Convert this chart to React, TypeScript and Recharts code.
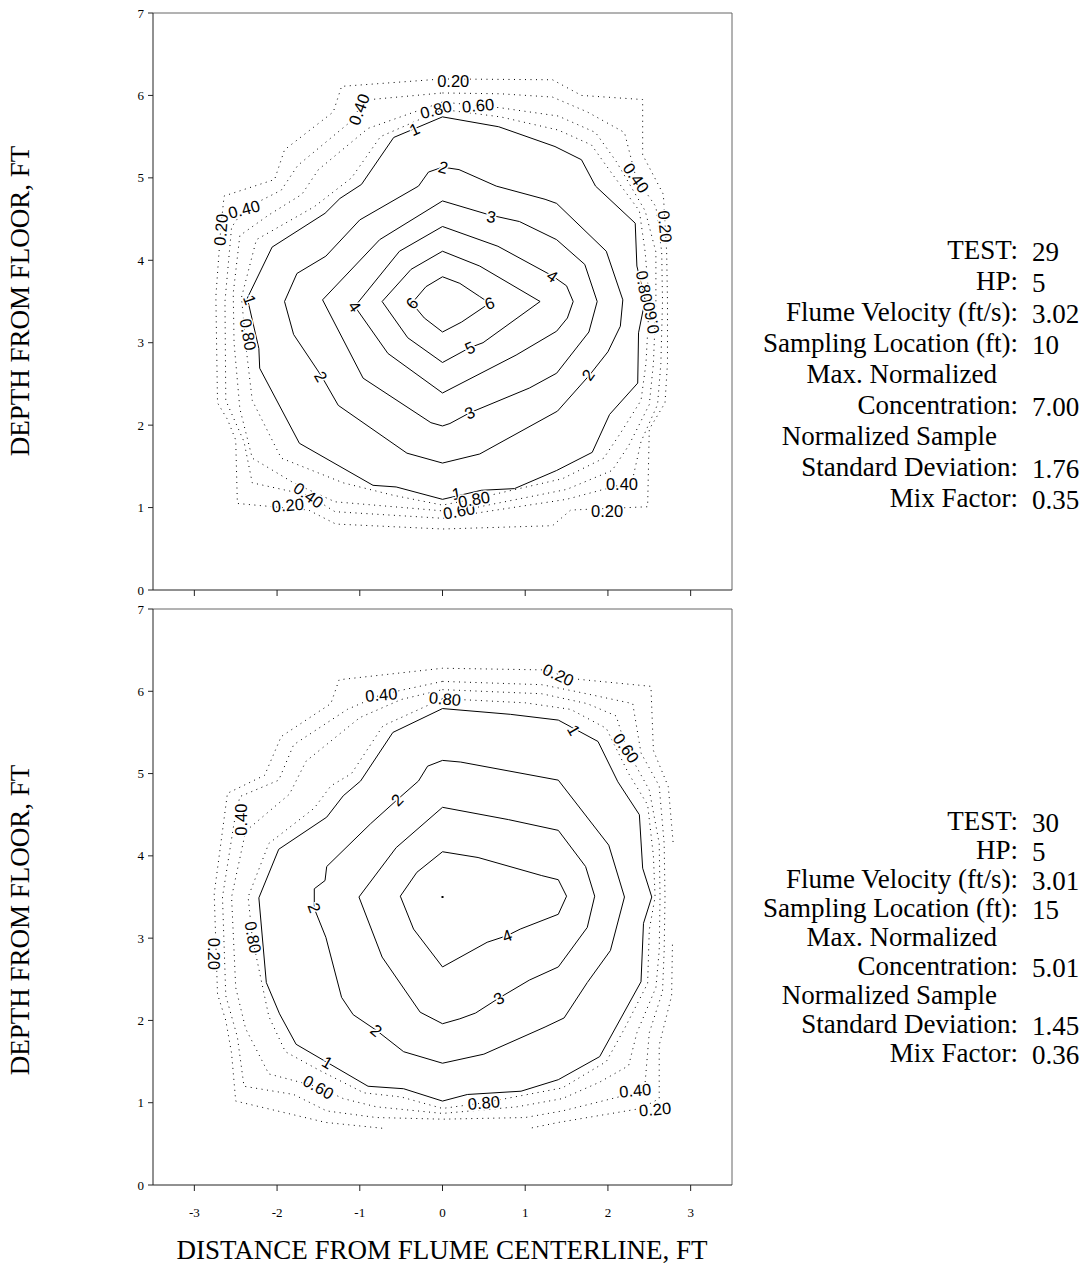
import React from 'react';
import { ScatterChart, Scatter, XAxis, YAxis, ReferenceLine } from 'recharts';

type P = [number, number];
type Lbl = [number, number, string, number];

const xTicks = [-3, -2, -1, 0, 1, 2, 3];
const yTicks = [0, 1, 2, 3, 4, 5, 6, 7];

// ---- Test 29 contour lines (x ft, depth ft) ----
const t29c020: P[] = [
  [0, 6.2], [1.33, 6.19], [1.68, 6.0], [2.42, 5.95], [2.42, 5.28], [2.67, 4.8], [2.71, 4.1], [2.72, 3.5],
  [2.72, 2.75], [2.69, 2.27], [2.5, 1.95], [2.48, 1.01], [1.55, 0.97], [1.33, 0.78], [0, 0.74], [-1.29, 0.8],
  [-1.62, 0.97], [-2.48, 1.05], [-2.5, 1.82], [-2.6, 2.07], [-2.72, 2.27], [-2.74, 3.56], [-2.68, 4.4],
  [-2.64, 4.78], [-2.03, 4.98], [-1.91, 5.34], [-1.32, 5.8], [-1.22, 6.11], [0, 6.2],
];
const t29c040: P[] = [
  [0, 6.03], [0.7, 6.02], [1.33, 5.98], [1.75, 5.8], [2.2, 5.55], [2.34, 5.0], [2.58, 4.65], [2.65, 4.1],
  [2.66, 3.5], [2.64, 2.75], [2.6, 2.25], [2.4, 1.8], [2.3, 1.35], [2.17, 1.28], [1.5, 1.1], [0, 0.87],
  [-1.3, 0.95], [-1.62, 1.15], [-2.3, 1.3], [-2.4, 1.8], [-2.62, 2.3], [-2.63, 3.5], [-2.55, 4.4],
  [-2.4, 4.62], [-1.95, 4.85], [-1.75, 5.15], [-1.15, 5.65], [-1.01, 5.83], [-0.87, 5.95], [0, 6.03],
];
const t29c060: P[] = [
  [0, 5.92], [0.7, 5.85], [1.4, 5.75], [1.85, 5.55], [2.1, 5.2], [2.45, 4.6], [2.58, 4.1], [2.58, 3.5],
  [2.55, 2.75], [2.5, 2.25], [2.25, 1.75], [2.05, 1.45], [1.5, 1.22], [0.2, 0.96], [0, 0.96], [-1.3, 1.07],
  [-1.8, 1.3], [-2.3, 1.6], [-2.45, 2.2], [-2.52, 3.0], [-2.53, 3.6], [-2.45, 4.3], [-2.1, 4.55],
  [-1.7, 4.8], [-1.5, 5.1], [-0.9, 5.6], [0, 5.92],
];
const t29c080: P[] = [
  [0, 5.83], [0.7, 5.74], [1.4, 5.58], [1.8, 5.4], [2.05, 5.05], [2.38, 4.6], [2.45, 4.1], [2.5, 3.5],
  [2.46, 2.75], [2.4, 2.3], [2.15, 1.9], [1.95, 1.6], [1.45, 1.35], [0.36, 1.1], [0, 1.03], [-0.6, 1.15],
  [-1.2, 1.3], [-1.95, 1.6], [-2.3, 2.3], [-2.37, 2.9], [-2.43, 3.55], [-2.25, 4.25], [-1.55, 4.65],
  [-1.1, 5.0], [-0.75, 5.5], [0, 5.83],
];
const t29c1: P[] = [
  [0, 5.74], [0.68, 5.62], [1.36, 5.38], [1.68, 5.22], [1.85, 4.9], [2.33, 4.45], [2.35, 3.93], [2.45, 3.52],
  [2.37, 3.12], [2.36, 2.51], [2.02, 2.13], [1.81, 1.67], [1.38, 1.45], [0.87, 1.23], [0.47, 1.21], [0, 1.1],
  [-0.56, 1.25], [-0.84, 1.27], [-1.73, 1.78], [-2.21, 2.69], [-2.22, 2.93], [-2.36, 3.54], [-2.06, 4.16],
  [-1.42, 4.57], [-1.24, 4.75], [-0.98, 4.92], [-0.59, 5.49], [0, 5.74],
];
const t29c2: P[] = [
  [0, 5.13], [0.2, 5.1], [0.65, 4.9], [1.24, 4.74], [1.38, 4.69], [1.98, 4.11], [2.18, 3.52], [2.15, 3.2],
  [2.0, 2.89], [1.78, 2.61], [1.39, 2.17], [0.45, 1.65], [0, 1.54], [-0.43, 1.66], [-1.26, 2.24],
  [-1.46, 2.59], [-1.8, 3.1], [-1.91, 3.5], [-1.76, 3.84], [-1.41, 4.05], [-1.0, 4.49], [-0.29, 4.9],
  [-0.17, 5.07], [0, 5.13],
];
const t29c3: P[] = [
  [0, 4.72], [0.57, 4.55], [0.93, 4.47], [1.38, 4.25], [1.72, 3.95], [1.87, 3.5], [1.77, 3.13], [1.38, 2.63],
  [1.05, 2.45], [0.33, 2.15], [0.09, 2.02], [0, 1.99], [-0.14, 2.03], [-0.96, 2.57], [-1.45, 3.52],
  [-0.76, 4.25], [0, 4.72],
];
const t29c4: P[] = [
  [0, 4.41], [0.67, 4.17], [1.33, 3.81], [1.5, 3.69], [1.58, 3.5], [1.51, 3.3], [1.38, 3.14], [0.89, 2.85],
  [0, 2.39], [-0.66, 2.87], [-1.06, 3.44], [-0.52, 4.11], [0, 4.41],
];
const t29c5: P[] = [
  [0, 4.11], [0.45, 3.93], [1.18, 3.5], [0.49, 3.0], [0.33, 2.94], [0, 2.76], [-0.42, 3.06], [-0.73, 3.5],
  [-0.38, 3.89], [0, 4.11],
];
const t29c6: P[] = [
  [0, 3.8], [0.21, 3.72], [0.45, 3.56], [0.57, 3.48], [0.23, 3.25], [0, 3.13], [-0.22, 3.3], [-0.37, 3.48],
  [-0.2, 3.68], [0, 3.8],
];
const t29Labels: Lbl[] = [
  [-0.34, 5.59, '1', -25], [0.01, 5.13, '2', 15], [0.59, 4.53, '3', 10], [1.33, 3.81, '4', 35],
  [-1.06, 3.44, '4', 55], [-0.37, 3.48, '6', -50], [0.57, 3.48, '6', -20], [0.33, 2.94, '5', -25],
  [0.33, 2.15, '3', -25], [-1.47, 2.59, '2', 60], [1.76, 2.61, '2', -55], [-2.33, 3.52, '1', 70],
  [0.17, 1.17, '1', -10],
  [0.13, 6.18, '0.20', 0], [-1.01, 5.83, '0.40', -70], [-0.08, 5.83, '0.80', -15], [0.43, 5.88, '0.60', -5],
  [2.34, 5.0, '0.40', 55], [2.69, 4.41, '0.20', 85], [2.44, 3.68, '0.80', 80], [2.52, 3.3, '0.60', -100],
  [-2.68, 4.37, '0.20', -85], [-2.4, 4.62, '0.40', -15], [-2.35, 3.1, '0.80', 80],
  [-1.62, 1.15, '0.40', 35], [-1.87, 1.03, '0.20', -5], [0.2, 0.96, '0.60', -10], [0.38, 1.1, '0.80', -10],
  [2.17, 1.28, '0.40', 0], [1.99, 0.96, '0.20', 0],
];

// ---- Test 30 contour lines ----
const t30c020a: P[] = [
  [-0.73, 0.69], [-1.41, 0.76], [-2.5, 1.02], [-2.55, 1.6], [-2.62, 2.0], [-2.72, 2.32], [-2.76, 3.54],
  [-2.6, 4.76], [-2.15, 4.98], [-1.95, 5.45], [-1.35, 5.85], [-1.25, 6.14], [0, 6.28], [1.22, 6.26],
  [1.6, 6.15], [2.52, 6.06], [2.55, 5.28], [2.73, 4.84], [2.79, 4.14],
];
const t30c020b: P[] = [
  [2.78, 2.92], [2.77, 2.3], [2.62, 1.7], [2.62, 1.05], [2.4, 0.93], [1.4, 0.76], [1.06, 0.69],
];
const t30c040: P[] = [
  [0, 6.12], [1.2, 6.08], [1.6, 6.0], [2.3, 5.85], [2.4, 5.25], [2.62, 4.85], [2.68, 4.15], [2.69, 3.5],
  [2.68, 2.85], [2.66, 2.35], [2.5, 1.85], [2.45, 1.25], [2.33, 1.12], [1.45, 0.9], [1.0, 0.82], [0, 0.8],
  [-0.8, 0.82], [-1.4, 0.9], [-1.8, 1.1], [-2.4, 1.2], [-2.48, 1.8], [-2.62, 2.3], [-2.66, 3.5],
  [-2.52, 4.4], [-2.45, 4.72], [-1.98, 4.92], [-1.8, 5.35], [-1.15, 5.78], [-0.74, 5.96], [0, 6.12],
];
const t30c060: P[] = [
  [0, 6.02], [1.2, 5.97], [1.75, 5.85], [2.1, 5.7], [2.22, 5.31], [2.5, 4.8], [2.62, 4.15], [2.63, 3.5],
  [2.62, 2.85], [2.58, 2.4], [2.35, 1.85], [2.25, 1.45], [1.9, 1.25], [1.45, 1.05], [0.9, 0.95], [0, 0.87],
  [-0.8, 0.95], [-1.2, 1.05], [-1.5, 1.19], [-2.1, 1.35], [-2.38, 1.9], [-2.5, 2.4], [-2.55, 3.5],
  [-2.38, 4.3], [-1.85, 4.75], [-1.65, 5.15], [-1.0, 5.68], [-0.5, 5.9], [0, 6.02],
];
const t30c080: P[] = [
  [0, 5.91], [1.0, 5.86], [1.55, 5.78], [1.98, 5.55], [2.25, 5.0], [2.48, 4.62], [2.55, 4.0], [2.57, 3.5],
  [2.5, 3.1], [2.48, 2.45], [2.2, 1.9], [1.98, 1.5], [1.45, 1.18], [0.5, 1.0], [0, 0.93], [-0.5, 1.07],
  [-0.95, 1.12], [-1.5, 1.4], [-1.9, 1.62], [-2.1, 2.05], [-2.3, 3.01], [-2.35, 3.5], [-2.1, 4.15],
  [-1.55, 4.58], [-1.35, 4.85], [-1.1, 5.0], [-0.72, 5.58], [0, 5.91],
];
const t30c1: P[] = [
  [0, 5.79], [0.82, 5.72], [1.4, 5.65], [1.88, 5.39], [2.12, 4.9], [2.38, 4.5], [2.42, 3.85], [2.53, 3.5],
  [2.43, 3.18], [2.4, 2.47], [1.9, 1.56], [1.4, 1.28], [0.95, 1.14], [0.3, 1.1], [0, 1.02], [-0.47, 1.17],
  [-0.9, 1.2], [-1.77, 1.71], [-1.97, 2.08], [-2.13, 2.46], [-2.22, 3.49], [-1.98, 4.08], [-1.4, 4.47],
  [-1.2, 4.73], [-0.99, 4.91], [-0.6, 5.5], [0, 5.79],
];
const t30c2: P[] = [
  [0, 5.16], [0.22, 5.14], [1.4, 4.92], [2.01, 4.13], [2.2, 3.5], [2.03, 2.85], [1.75, 2.46], [1.47, 2.03],
  [1.24, 1.92], [0.5, 1.59], [0, 1.48], [-0.47, 1.62], [-0.8, 1.88], [-1.08, 2.07], [-1.22, 2.28],
  [-1.41, 3.01], [-1.55, 3.36], [-1.55, 3.6], [-1.42, 3.7], [-1.4, 3.87], [-0.87, 4.39], [-0.55, 4.68],
  [-0.29, 4.91], [-0.18, 5.09], [0, 5.16],
];
const t30c3: P[] = [
  [0, 4.59], [0.8, 4.44], [1.4, 4.31], [1.73, 3.87], [1.84, 3.51], [1.75, 3.13], [1.4, 2.65], [1.05, 2.49],
  [0.68, 2.27], [0.4, 2.09], [0.21, 2.02], [0, 1.96], [-0.27, 2.1], [-0.73, 2.77], [-1.01, 3.5],
  [-0.56, 4.1], [0, 4.59],
];
const t30c4: P[] = [
  [0, 4.05], [0.43, 3.98], [1.2, 3.76], [1.4, 3.71], [1.5, 3.51], [1.4, 3.29], [0.94, 3.11], [0.78, 3.03],
  [0.54, 2.95], [0, 2.65], [-0.35, 3.11], [-0.51, 3.51], [-0.31, 3.8], [0, 4.05],
];
const t30Peak: P[] = [[0, 3.5]];
const t30Labels: Lbl[] = [
  [1.4, 6.2, '0.20', 25], [-0.74, 5.96, '0.40', -5], [0.03, 5.91, '0.80', 5], [1.59, 5.53, '1', 60],
  [2.22, 5.31, '0.60', 55], [-2.43, 4.44, '0.40', -90], [-0.55, 4.68, '2', -45], [-1.55, 3.37, '2', 70],
  [-2.76, 2.81, '0.20', 90], [-2.29, 3.01, '0.80', 80], [0.78, 3.03, '4', -20], [0.68, 2.27, '3', -30],
  [-0.8, 1.88, '2', 40], [-1.39, 1.49, '1', 30], [-1.5, 1.19, '0.60', 30], [0.5, 1.0, '0.80', -5],
  [2.33, 1.15, '0.40', -5], [2.57, 0.92, '0.20', -5],
];

const test29Info: [string, string][] = [
  ['TEST:', '29'], ['HP:', '5'], ['Flume Velocity (ft/s):', '3.02'], ['Sampling Location (ft):', '10'],
  ['Max. Normalized', ''], ['Concentration:', '7.00'], ['Normalized Sample', ''],
  ['Standard Deviation:', '1.76'], ['Mix Factor:', '0.35'],
];
const test30Info: [string, string][] = [
  ['TEST:', '30'], ['HP:', '5'], ['Flume Velocity (ft/s):', '3.01'], ['Sampling Location (ft):', '15'],
  ['Max. Normalized', ''], ['Concentration:', '5.01'], ['Normalized Sample', ''],
  ['Standard Deviation:', '1.45'], ['Mix Factor:', '0.36'],
];

const SERIF = "'Liberation Serif', 'Times New Roman', serif";
const SANS = "'Liberation Sans', Arial, sans-serif";

const toPts = (arr: P[]) => arr.map(([x, y]) => ({ x, y }));
const NoDot = () => <g />;

// contour value written along the line, with a white halo that breaks the line under it
const LabelShape = (props: any) => {
  const { cx, cy, payload } = props;
  return (
    <text
      x={cx}
      y={cy}
      dy="0.36em"
      textAnchor="middle"
      transform={`rotate(${payload.a} ${cx} ${cy})`}
      fontFamily={SANS}
      fontSize={16.5}
      fill="#000"
      stroke="#fff"
      strokeWidth={3}
      paintOrder="stroke"
    >
      {payload.t}
    </text>
  );
};

const PeakShape = (props: any) => <rect x={props.cx - 1} y={props.cy - 1} width={2} height={2} fill="#000" />;

interface PanelProps {
  dotted: P[][];
  solid: P[][];
  labels: Lbl[];
  peaks?: P[];
  showXLabels: boolean;
  xAxisHeight: number;
  height: number;
  bottom: number;
}

function ContourPanel({ dotted, solid, labels, peaks, showXLabels, xAxisHeight, height, bottom }: PanelProps) {
  const labelData = labels.map(([x, y, t, a]) => ({ x, y, t, a }));
  return (
    <ScatterChart width={760} height={height} margin={{ top: 13, right: 28, bottom, left: 0 }}>
      <XAxis
        type="number"
        dataKey="x"
        domain={[-3.5, 3.5]}
        ticks={xTicks}
        allowDataOverflow
        height={xAxisHeight}
        tickSize={6}
        tickMargin={17}
        axisLine={{ stroke: '#222' }}
        tickLine={{ stroke: '#222' }}
        tick={{ fontSize: 13, fill: '#000', fontFamily: SERIF }}
        tickFormatter={(v: number) => (showXLabels ? String(v) : '')}
      />
      <YAxis
        type="number"
        dataKey="y"
        domain={[0, 7]}
        ticks={yTicks}
        allowDataOverflow
        width={153}
        tickSize={5}
        tickMargin={4}
        axisLine={{ stroke: '#222' }}
        tickLine={{ stroke: '#222' }}
        tick={{ fontSize: 13, fill: '#000', fontFamily: SERIF }}
      />
      <ReferenceLine y={7} stroke="#666" />
      <ReferenceLine x={3.5} stroke="#666" />
      {dotted.map((d, i) => (
        <Scatter
          key={`d${i}`}
          data={toPts(d)}
          line={{ stroke: '#000', strokeWidth: 1, strokeDasharray: '1 4.5' }}
          lineType="joint"
          shape={NoDot}
          isAnimationActive={false}
        />
      ))}
      {solid.map((d, i) => (
        <Scatter
          key={`s${i}`}
          data={toPts(d)}
          line={{ stroke: '#000', strokeWidth: 1 }}
          lineType="joint"
          shape={NoDot}
          isAnimationActive={false}
        />
      ))}
      {peaks && <Scatter data={toPts(peaks)} shape={PeakShape} isAnimationActive={false} />}
      <Scatter data={labelData} shape={LabelShape} isAnimationActive={false} />
    </ScatterChart>
  );
}

function InfoBlock({ rows, top, step }: { rows: [string, string][]; top: number; step: number }) {
  return (
    <g fontFamily={SERIF} fontSize={27} fill="#000">
      {rows.map(([k, v], i) => {
        const y = top + i * step + 9;
        const lead = v === '';
        return (
          <g key={k}>
            <text x={lead ? 997 : 1018} y={y} textAnchor="end">{k}</text>
            {v && <text x={1032} y={y + 2}>{v}</text>}
          </g>
        );
      })}
    </g>
  );
}

export default function App() {
  return (
    <div style={{ position: 'absolute', left: 0, top: 0, width: 1080, height: 1270, background: '#fff' }}>
      <div style={{ position: 'absolute', left: 0, top: 0 }}>
        <ContourPanel
          dotted={[t29c020, t29c040, t29c060, t29c080]}
          solid={[t29c1, t29c2, t29c3, t29c4, t29c5, t29c6]}
          labels={t29Labels}
          showXLabels={false}
          xAxisHeight={30}
          height={620}
          bottom={0}
        />
      </div>
      <div style={{ position: 'absolute', left: 0, top: 596 }}>
        <ContourPanel
          dotted={[t30c020a, t30c020b, t30c040, t30c060, t30c080]}
          solid={[t30c1, t30c2, t30c3, t30c4]}
          labels={t30Labels}
          peaks={t30Peak}
          showXLabels
          xAxisHeight={31}
          height={645}
          bottom={25}
        />
      </div>
      <svg width={1080} height={1270} style={{ position: 'absolute', left: 0, top: 0, pointerEvents: 'none' }}>
        <g fontFamily={SERIF} fontSize={27} fill="#000" textAnchor="middle">
          <text transform="translate(29 301) rotate(-90)">DEPTH FROM FLOOR, FT</text>
          <text transform="translate(29 920) rotate(-90)">DEPTH FROM FLOOR, FT</text>
          <text x={442} y={1259}>DISTANCE FROM FLUME CENTERLINE, FT</text>
        </g>
        <InfoBlock rows={test29Info} top={250} step={31} />
        <InfoBlock rows={test30Info} top={821} step={29} />
      </svg>
    </div>
  );
}
